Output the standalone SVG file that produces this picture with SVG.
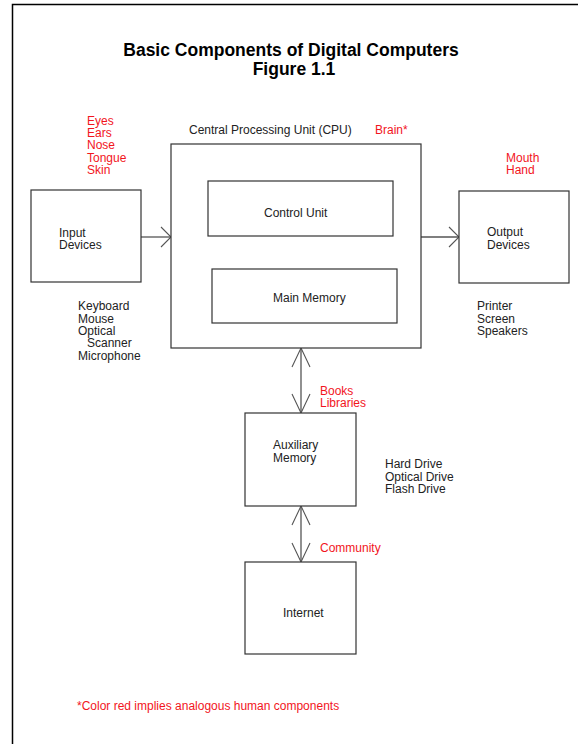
<svg xmlns="http://www.w3.org/2000/svg" width="578" height="744" viewBox="0 0 578 744">
<style>
text{font-family:"Liberation Sans",Arial,sans-serif;font-size:12px;fill:#222}
.red{fill:#f2151d}
.title{font-size:17.5px;font-weight:bold;fill:#000;text-anchor:middle}
.box{fill:#fff;stroke:#333;stroke-width:1.2}
.conn{stroke:#555;stroke-width:1.3;fill:none}
.mk{stroke:#555;stroke-width:1.1;fill:none}
</style>
<defs>
<marker id="h" markerUnits="userSpaceOnUse" markerWidth="14" markerHeight="24" refX="11" refY="11" orient="auto" overflow="visible"><path class="mk" d="M1,1 L11,11 L1,21"/></marker>
<marker id="v" markerUnits="userSpaceOnUse" markerWidth="22" markerHeight="22" refX="20" refY="10" orient="auto-start-reverse" overflow="visible"><path class="mk" d="M1,1 L20,10 L1,19"/></marker>
</defs>
<rect width="578" height="744" fill="#fff"/>
<path d="M12.5,744 V4.5 H578" fill="none" stroke="#000" stroke-width="1.5"/>
<g id="title">
<text class="title" x="291" y="56">Basic Components of Digital Computers</text>
<text class="title" x="294" y="75">Figure 1.1</text>
</g>
<g id="connectors">
<line class="conn" x1="141" y1="237" x2="171" y2="237" marker-end="url(#h)"/>
<line class="conn" x1="421" y1="237" x2="459" y2="237" marker-end="url(#h)"/>
<line class="conn" x1="301" y1="348" x2="301" y2="413" marker-start="url(#v)" marker-end="url(#v)"/>
<line class="conn" x1="301" y1="506" x2="301" y2="562" marker-start="url(#v)" marker-end="url(#v)"/>
</g>
<g id="input">
<rect class="box" x="31" y="190" width="110" height="92"/>
<text x="59" y="237">Input</text>
<text x="59" y="249">Devices</text>
</g>
<g id="input-senses">
<text class="red" x="87" y="125">Eyes</text>
<text class="red" x="87" y="137">Ears</text>
<text class="red" x="87" y="149">Nose</text>
<text class="red" x="87" y="162">Tongue</text>
<text class="red" x="87" y="174">Skin</text>
</g>
<g id="input-examples">
<text x="78" y="310">Keyboard</text>
<text x="78" y="323">Mouse</text>
<text x="78" y="335">Optical</text>
<text x="87" y="347">Scanner</text>
<text x="78" y="360">Microphone</text>
</g>
<g id="cpu">
<rect class="box" x="171" y="144" width="250" height="204"/>
<text x="189" y="134">Central Processing Unit (CPU)</text>
<text class="red" x="375" y="134">Brain*</text>
</g>
<g id="control-unit">
<rect class="box" x="208" y="181" width="185" height="55"/>
<text x="264" y="217">Control Unit</text>
</g>
<g id="main-memory">
<rect class="box" x="212" y="269" width="185" height="54"/>
<text x="273" y="302">Main Memory</text>
</g>
<g id="output">
<rect class="box" x="459" y="191" width="110" height="92"/>
<text x="487" y="236">Output</text>
<text x="487" y="249">Devices</text>
<text class="red" x="506" y="162">Mouth</text>
<text class="red" x="506" y="174">Hand</text>
<text x="477" y="310">Printer</text>
<text x="477" y="323">Screen</text>
<text x="477" y="335">Speakers</text>
</g>
<g id="auxiliary">
<rect class="box" x="245" y="413" width="111" height="93"/>
<text x="273" y="449">Auxiliary</text>
<text x="273" y="462">Memory</text>
<text class="red" x="320" y="395">Books</text>
<text class="red" x="320" y="407">Libraries</text>
<text x="385" y="468">Hard Drive</text>
<text x="385" y="481">Optical Drive</text>
<text x="385" y="493">Flash Drive</text>
</g>
<g id="internet">
<rect class="box" x="245" y="562" width="111" height="92"/>
<text x="283" y="617">Internet</text>
<text class="red" x="320" y="552">Community</text>
</g>
<g id="footnote">
<text class="red" x="77" y="710">*Color red implies analogous human components</text>
</g>
</svg>
